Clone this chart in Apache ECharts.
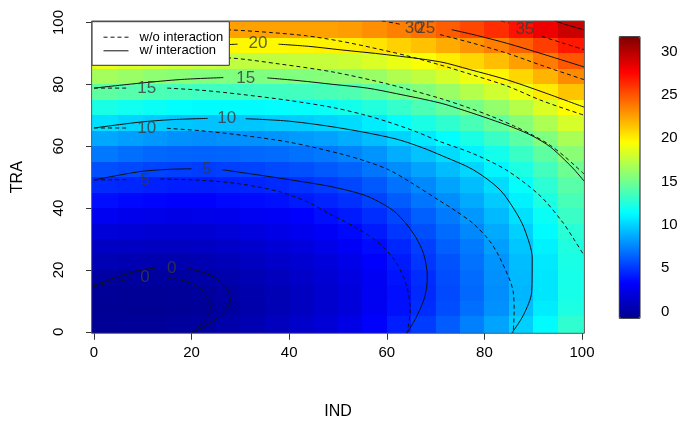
<!DOCTYPE html>
<html>
<head>
<meta charset="utf-8">
<script src="https://cdn.jsdelivr.net/npm/echarts@6/dist/echarts.min.js"></script>
<style>
  html, body { margin: 0; padding: 0; background: #fff; }
  #chart { width: 683px; height: 422px; }
</style>
</head>
<body>
<div id="chart"></div>
<script>
// cell centres of the fitted surface (IND across, TRA up)
const indCells = [2.5, 7.5, 12.5, 17.5, 22.5, 27.5, 32.5, 37.5, 42.5, 47.5, 52.5, 57.5, 62.5, 67.5, 72.5, 77.5, 82.5, 87.5, 92.5, 97.5];
const traCells = [2.5, 7.5, 12.5, 17.5, 22.5, 27.5, 32.5, 37.5, 42.5, 47.5, 52.5, 57.5, 62.5, 67.5, 72.5, 77.5, 82.5, 87.5, 92.5, 97.5];

// fitted values, one row per TRA cell (bottom row first)
const fitted = [
  [-0.5, -0.4, -0.4, -0.3, -0.1, 0.2, 0.5, 0.9, 1.4, 1.8, 2.4, 3.2, 4.2, 5.2, 6.2, 7.3, 8.5, 9.9, 11.3, 12.9],
  [-0.6, -0.6, -0.6, -0.5, -0.4, -0.1, 0.2, 0.6, 1.0, 1.5, 2.0, 2.8, 3.8, 4.7, 5.7, 6.8, 7.9, 9.3, 10.8, 12.3],
  [-0.4, -0.5, -0.5, -0.4, -0.3, 0.0, 0.3, 0.6, 1.0, 1.5, 2.0, 2.8, 3.7, 4.6, 5.6, 6.6, 7.8, 9.1, 10.6, 12.1],
  [0.0, -0.1, -0.1, -0.1, 0.1, 0.3, 0.6, 0.9, 1.3, 1.7, 2.2, 2.9, 3.9, 4.7, 5.7, 6.7, 7.9, 9.2, 10.6, 12.1],
  [0.6, 0.5, 0.4, 0.4, 0.5, 0.7, 1.0, 1.3, 1.6, 2.0, 2.5, 3.2, 4.1, 5.0, 5.9, 6.9, 8.0, 9.3, 10.7, 12.2],
  [1.2, 1.1, 1.0, 1.0, 1.1, 1.3, 1.5, 1.8, 2.1, 2.5, 3.0, 3.6, 4.5, 5.3, 6.3, 7.2, 8.3, 9.6, 11.0, 12.4],
  [1.9, 1.8, 1.7, 1.7, 1.7, 1.9, 2.1, 2.4, 2.7, 3.0, 3.5, 4.1, 5.0, 5.8, 6.7, 7.6, 8.7, 9.9, 11.3, 12.7],
  [2.8, 2.6, 2.5, 2.4, 2.5, 2.6, 2.8, 3.0, 3.3, 3.7, 4.1, 4.7, 5.5, 6.3, 7.2, 8.1, 9.2, 10.4, 11.7, 13.2],
  [3.7, 3.5, 3.4, 3.3, 3.3, 3.5, 3.6, 3.8, 4.1, 4.4, 4.8, 5.4, 6.2, 7.0, 7.8, 8.7, 9.7, 11.0, 12.3, 13.7],
  [4.6, 4.5, 4.3, 4.2, 4.2, 4.3, 4.4, 4.6, 4.8, 5.1, 5.5, 6.1, 6.9, 7.6, 8.5, 9.3, 10.3, 11.5, 12.8, 14.2],
  [5.8, 5.6, 5.4, 5.3, 5.2, 5.3, 5.4, 5.6, 5.8, 6.1, 6.4, 7.0, 7.8, 8.5, 9.3, 10.1, 11.1, 12.3, 13.5, 14.9],
  [7.1, 6.8, 6.6, 6.5, 6.4, 6.5, 6.6, 6.7, 6.9, 7.1, 7.5, 8.0, 8.8, 9.5, 10.3, 11.1, 12.0, 13.2, 14.4, 15.8],
  [8.6, 8.3, 8.1, 7.9, 7.8, 7.9, 7.9, 8.0, 8.2, 8.4, 8.8, 9.3, 10.0, 10.7, 11.4, 12.2, 13.2, 14.3, 15.5, 16.8],
  [10.4, 10.1, 9.8, 9.6, 9.5, 9.5, 9.6, 9.7, 9.8, 10.0, 10.3, 10.8, 11.5, 12.2, 12.9, 13.7, 14.6, 15.7, 16.9, 18.2],
  [12.2, 11.9, 11.7, 11.4, 11.3, 11.3, 11.3, 11.4, 11.5, 11.7, 12.0, 12.5, 13.1, 13.8, 14.5, 15.2, 16.1, 17.2, 18.4, 19.6],
  [14.4, 14.1, 13.8, 13.6, 13.4, 13.4, 13.4, 13.4, 13.5, 13.7, 13.9, 14.4, 15.0, 15.6, 16.3, 17.1, 18.0, 19.0, 20.2, 21.4],
  [16.6, 16.3, 15.9, 15.7, 15.5, 15.5, 15.4, 15.5, 15.5, 15.7, 15.9, 16.3, 17.0, 17.5, 18.2, 19.0, 19.8, 20.8, 21.9, 23.2],
  [18.8, 18.4, 18.1, 17.8, 17.6, 17.5, 17.5, 17.5, 17.6, 17.7, 17.9, 18.3, 18.9, 19.4, 20.1, 20.8, 21.6, 22.6, 23.7, 24.9],
  [21.2, 20.8, 20.4, 20.1, 19.9, 19.8, 19.7, 19.7, 19.8, 19.9, 20.0, 20.4, 21.0, 21.5, 22.2, 22.9, 23.6, 24.6, 25.7, 26.9],
  [24.1, 23.7, 23.3, 22.9, 22.7, 22.6, 22.5, 22.5, 22.5, 22.5, 22.7, 23.1, 23.6, 24.1, 24.7, 25.4, 26.2, 27.1, 28.2, 29.3]
];

// contour lines, broken where R put a label
// w/ interaction (solid)
const w0 = [[[0, 15.1], [5, 17.8], [9.4, 19.9], [12.5, 20.5]],
  [[19.3, 20.5], [22, 19.4], [24.4, 17.8], [26.3, 15.6], [27.5, 13.3], [27.9, 10.3], [27.4, 7.8], [26.2, 5.6], [24.4, 3.4], [22.4, 1.6], [20, -0.5]]];
const w5 = [[[0, 49.1], [9.4, 51.8], [15, 52.5], [20, 52.7]],
  [[26.3, 52.4], [35, 50.4], [42, 48.7], [48.4, 47], [55.2, 44.3], [59, 41.5], [62, 38.3], [65.4, 31.9], [67.5, 25.4], [68.3, 17.8], [67.8, 11.4], [66.1, 4.9], [64.1, -0.5]]];
const w10 = [[[0, 65.9], [9.4, 67.8], [16, 68.6], [23.3, 69.0]],
  [[31.1, 68.9], [40, 68.1], [50.4, 65.9], [61.5, 62.5], [67, 59.7], [71.5, 56.8], [77.7, 52.4], [83.2, 45.9], [86.6, 38.3], [88.3, 32.9], [89.8, 23.8], [89.7, 13], [88, 5.4], [85.6, -0.5]]];
const w15 = [[[0, 78.8], [9.4, 80.4], [18, 81.6], [26.5, 82.2]],
  [[35.5, 82.1], [42, 81.2], [49, 80], [56, 78.8], [62, 77], [70.9, 74], [76, 71.5], [81.1, 68.8], [86, 66], [90, 63.2], [93.5, 59.8], [96.5, 55.5], [98.5, 52.3], [100.5, 48.6]]];
const w20 = [[[0, 89.7], [14, 91.4], [24, 92.6], [29.4, 93]],
  [[37.8, 93], [44, 92.3], [50.4, 91.2], [60, 89.6], [70.9, 87.3], [77, 84.8], [84.6, 81.5], [92, 77.5], [100.5, 72.6]]];
const w25 = [[[73.3, 97.7], [78, 96], [84.6, 93.3], [92, 89.8], [100.5, 85.6]]];
const w30 = [[[94.5, 100.5], [97, 99.2], [100.5, 97.6]]];

// w/o interaction (dashed)
const wo0 = [[[0, 14.6], [4, 16], [7.5, 17.1]],
  [[13.5, 17.6], [16.5, 17.1], [19, 16.2], [21, 14.8], [22.4, 13], [23.4, 10.5], [23.8, 8.3], [23.4, 5.6], [22.3, 3.2], [21, 1.2], [19.7, -0.5]]];
const wo5 = [[[0, 49.1], [7.3, 49.2]],
  [[13.6, 49.4], [22, 49.0], [30, 47.8], [38, 45.3], [44, 41.8], [48.4, 38.0], [53.8, 33.6], [58.6, 28.4], [62, 22.2], [64.1, 14.6], [64.8, 7.1], [64.4, 1.7], [64.1, -0.5]]];
const wo10 = [[[0, 65.9], [6.6, 65.9]],
  [[14.9, 65.8], [22, 65], [30, 63.6], [40, 61.3], [50.4, 57.6], [56, 55], [60.5, 52.3], [65, 48.2], [70.5, 42.7], [74, 39.2], [77.7, 35], [81, 29.5], [83.2, 23.8], [85.9, 13], [86.1, 6.5], [85.9, -0.5]]];
const wo15 = [[[0, 78.8], [6.6, 78.8]],
  [[15, 78.8], [22, 78.1], [30, 76.8], [40, 74.8], [49, 72.5], [55, 70.3], [60, 68], [66, 64.7], [70.9, 61.5], [77.7, 57.6], [84.6, 52.2], [91.4, 44], [96, 35.5], [98.2, 30.3], [100.5, 24.5]]];
const wo20 = [[[0, 89.7], [14, 89.3], [28.2, 88.5], [38, 86.6], [49, 84], [60, 80.2], [70.9, 75.5], [77, 72.3], [81.1, 69.9], [86, 66.6], [90, 63.5], [93.5, 60.3], [96.5, 56.6], [98.5, 53.8], [100.5, 50.9]]];
const wo25 = [[[0, 98.8], [14, 98.5], [28.2, 97.6], [36, 96.8], [43.6, 95.7], [50.4, 94], [57.2, 91.8], [64, 89.3], [70.9, 86.3], [77.7, 83], [84.6, 79.5], [92, 74.6], [100.5, 70]]];
const wo30 = [[[59, 100.5], [61.7, 99.8], [62.8, 99.4]],
  [[70.9, 96.1], [77.7, 93.3], [84.6, 90.1], [92, 86], [100.5, 81.5]]];
const wo35 = [[[83.4, 100.5], [85, 99.9]],
  [[91.8, 95.5], [96, 93.4], [100.5, 91.2]]];

// contour labels: [IND, TRA, text]
const wLabels = [[15.9, 20.5, '0'], [23.1, 52.4, '5'], [27.2, 68.9, '10'], [31.1, 82.0, '15'], [33.6, 93.2, '20'], [68.0, 98.2, '25']];
const woLabels = [[10.45, 17.6, '0'], [10.45, 49.1, '5'], [10.8, 65.9, '10'], [10.8, 78.8, '15'], [65.6, 98.2, '30'], [88.3, 97.7, '35']];

const axisTicks = [0, 20, 40, 60, 80, 100];
const barTicks = [0, 5, 10, 15, 20, 25, 30];
const zMin = -0.77, zMax = 31.7;

const font = 'Liberation Sans, Arial, sans-serif';
const half = 2.5;

const cellData = [];
traCells.forEach((y, j) => {
  indCells.forEach((x, i) => cellData.push([x, y, fitted[j][i]]));
});

function renderCell(params, api) {
  const x = api.value(0), y = api.value(1);
  const x0 = x - half <= 0 ? -0.5 : x - half;
  const x1 = x + half >= 100 ? 100.5 : x + half;
  const y0 = y - half <= 0 ? -0.5 : y - half;
  const y1 = y + half >= 100 ? 100.5 : y + half;
  const a = api.coord([x0, y1]);
  const b = api.coord([x1, y0]);
  const left = Math.round(a[0]), top = Math.round(a[1]);
  return {
    type: 'rect',
    shape: { x: left, y: top, width: Math.round(b[0]) - left, height: Math.round(b[1]) - top },
    style: { fill: api.visual('color') }
  };
}

const series = [{
  type: 'custom',
  name: 'fit',
  renderItem: renderCell,
  data: cellData,
  encode: { x: 0, y: 1 },
  z: 1,
  silent: true
}];

function addContours(list, name, dash) {
  list.forEach(segs => segs.forEach(seg => {
    series.push({
      type: 'line',
      name: name,
      data: seg,
      symbol: 'none',
      smooth: 0.3,
      z: 3,
      silent: true,
      itemStyle: { color: '#111' },
      lineStyle: { color: '#111', width: 1, type: dash }
    });
  }));
}
addContours([wo0, wo5, wo10, wo15, wo20, wo25, wo30, wo35], 'w/o interaction', [4, 3]);
addContours([w0, w5, w10, w15, w20, w25, w30], 'w/ interaction', 'solid');

series.push({
  type: 'scatter',
  data: wLabels.concat(woLabels),
  symbolSize: 1,
  itemStyle: { color: 'rgba(0,0,0,0)' },
  z: 4,
  silent: true,
  label: {
    show: true,
    position: 'inside',
    formatter: p => p.value[2],
    fontSize: 17,
    color: '#3a3a3a',
    fontFamily: font
  }
});

const chart = echarts.init(document.getElementById('chart'));
chart.setOption({
  animation: false,
  backgroundColor: '#fff',
  grid: [
    { left: 91.6, top: 21, width: 492.8, height: 312.3, outerBoundsMode: 'none', show: true, z: 5, borderColor: '#555', borderWidth: 1, backgroundColor: 'transparent' },
    { left: 619.3, top: 36.7, width: 20.7, height: 281.6, outerBoundsMode: 'none', show: true, z: 5, borderColor: '#222', borderWidth: 1, backgroundColor: 'transparent' }
  ],
  xAxis: [
    {
      gridIndex: 0, type: 'value', min: -0.5, max: 100.5,
      name: 'IND', nameLocation: 'middle', nameGap: 70,
      nameTextStyle: { fontSize: 16, color: '#000', fontFamily: font },
      axisLine: { show: false },
      splitLine: { show: false },
      axisTick: { show: true, length: 8, lineStyle: { color: '#333' }, customValues: axisTicks },
      axisLabel: { customValues: axisTicks, margin: 12, fontSize: 15, color: '#000', fontFamily: font }
    },
    { gridIndex: 1, type: 'value', min: 0, max: 1, show: false }
  ],
  yAxis: [
    {
      gridIndex: 0, type: 'value', min: -0.5, max: 100.5,
      name: 'TRA', nameLocation: 'middle', nameGap: 66,
      nameTextStyle: { fontSize: 16, color: '#000', fontFamily: font },
      axisLine: { show: false },
      splitLine: { show: false },
      axisTick: { show: true, length: 8, lineStyle: { color: '#333' }, customValues: axisTicks },
      axisLabel: { customValues: axisTicks, rotate: 90, margin: 25, fontSize: 15, color: '#000', fontFamily: font }
    },
    {
      gridIndex: 1, type: 'value', min: zMin, max: zMax, position: 'right',
      axisLine: { show: false },
      splitLine: { show: false },
      axisTick: { show: true, length: 8, lineStyle: { color: '#333' }, customValues: barTicks },
      axisLabel: { customValues: barTicks, margin: 21, fontSize: 15, color: '#000', fontFamily: font }
    }
  ],
  visualMap: {
    type: 'continuous',
    seriesIndex: 0,
    dimension: 2,
    min: zMin,
    max: zMax,
    left: 619.3,
    top: 36.7,
    itemWidth: 20.7,
    itemHeight: 281.6,
    padding: 0,
    text: null,
    calculable: false,
    hoverLink: false,
    inRange: {
      color: ['#00008F', '#0000FF', '#0080FF', '#00FFFF', '#80FF80', '#FFFF00', '#FF8000', '#FF0000', '#800000']
    }
  },
  legend: {
    data: ['w/o interaction', 'w/ interaction'],
    orient: 'vertical',
    left: 92,
    top: 21.7,
    padding: [9, 6, 8, 11],
    itemWidth: 25,
    itemHeight: 14,
    itemGap: 0.6,
    backgroundColor: '#fff',
    borderColor: '#333',
    borderWidth: 1,
    borderRadius: 0,
    selectedMode: false,
    itemStyle: { opacity: 0 },
    lineStyle: { width: 1, color: '#111' },
    textStyle: { fontSize: 13, color: '#000', fontFamily: font, padding: [0, 0, 0, 6] }
  },
  series: series
});
</script>
</body>
</html>
